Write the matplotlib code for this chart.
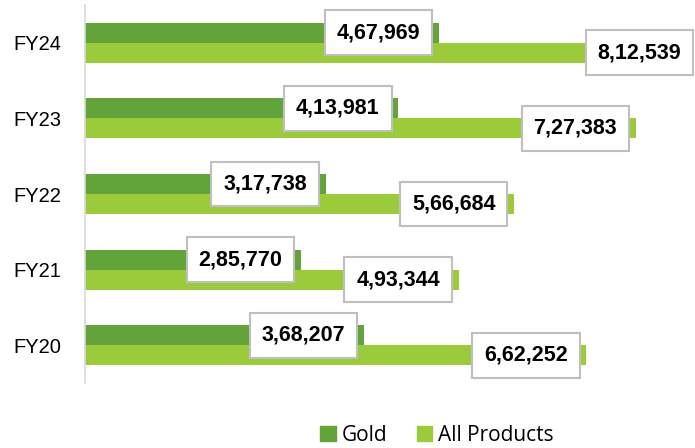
import matplotlib
matplotlib.use("Agg")
import matplotlib.pyplot as plt
import numpy as np
from matplotlib.patches import Patch

categories = ["FY20", "FY21", "FY22", "FY23", "FY24"]
gold = [368207, 285770, 317738, 413981, 467969]
all_products = [662252, 493344, 566684, 727383, 812539]
series_names = ["Gold", "All Products"]
colors = ["#62A33A", "#9BCB3B"]


def fmt_indian(v):
    s = str(int(v))
    last3 = s[-3:]
    rest = s[:-3]
    parts = []
    while len(rest) > 2:
        parts.insert(0, rest[-2:])
        rest = rest[:-2]
    if rest:
        parts.insert(0, rest)
    return ",".join(parts + [last3])


fig = plt.figure(figsize=(6.95, 4.48), dpi=100)
ax = fig.add_axes([85 / 695, 1 - 383 / 448, (693 - 85) / 695, (383 - 5) / 448])

y = np.arange(len(categories))
h = 0.265
ax.barh(y + h / 2, gold, height=h, color=colors[0], zorder=2)
ax.barh(y - h / 2, all_products, height=h, color=colors[1], zorder=2)

ax.set_xlim(0, 803000)
ax.set_ylim(-0.5, len(categories) - 0.5)

box = dict(boxstyle="square,pad=0.55", fc="white", ec="#BFBFBF", lw=1.5)
for i in range(len(categories)):
    for val, off in ((gold[i], h / 2), (all_products[i], -h / 2)):
        ax.annotate(fmt_indian(val), xy=(min(val, 812539), y[i] + off),
                    xytext=(-13.5, 0), textcoords="offset points",
                    ha="right", va="center", fontsize=15.5, fontweight="bold",
                    family=["Liberation Sans", "DejaVu Sans"], bbox=box,
                    zorder=5, annotation_clip=False)

ax.set_yticks(y)
ax.set_yticklabels(categories, fontsize=14.5, family=["Liberation Sans", "DejaVu Sans"])
ax.tick_params(axis="y", length=0, pad=17)
ax.set_xticks([])
for s in ["top", "right", "bottom"]:
    ax.spines[s].set_visible(False)
ax.spines["left"].set_color("#D9D9D9")
ax.spines["left"].set_linewidth(1.2)

handles = [Patch(color=c, label=n) for c, n in zip(colors, series_names)]
fig.legend(handles=handles, loc="center", bbox_to_anchor=(437 / 695, 1 - 435 / 448),
           ncol=2, frameon=False, handlelength=0.75, handleheight=0.75,
           handletextpad=0.3, columnspacing=1.4,
           prop={"family": ["Open Sans", "DejaVu Sans"], "size": 15})

fig.savefig("out.png", dpi=100)
